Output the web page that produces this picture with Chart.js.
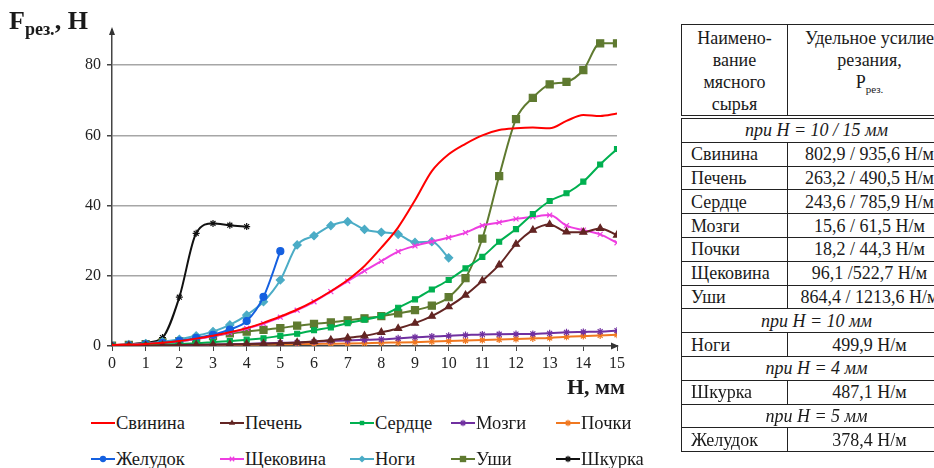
<!DOCTYPE html>
<html lang="ru">
<head>
<meta charset="utf-8">
<script src="https://cdn.jsdelivr.net/npm/chart.js@4.4.1/dist/chart.umd.min.js"></script>
<style>
body { margin:0; width:934px; height:468px; overflow:hidden; background:#fff;
       font-family:"Liberation Serif","Times New Roman",serif; color:#1a1a1a; position:relative; }
#chartBox { position:absolute; left:0; top:0; width:640px; height:400px; }
.ylab { position:absolute; left:9px; top:6px; font-weight:bold; font-size:26px; white-space:nowrap; }
.ylab sub { font-size:18px; vertical-align:-6px; }
.xlab { position:absolute; left:567px; top:374px; font-weight:bold; font-size:22px; white-space:nowrap; }
.lg { position:absolute; display:flex; align-items:center; font-size:18.5px; white-space:nowrap; height:20px; }
.lg canvas { margin-right:1px; }
table { position:absolute; left:681px; top:24px; border-collapse:collapse; font-size:18px; table-layout:fixed; width:270px; }
td { border:1.5px solid #222; padding:0 0 0 9px; height:22.8px; line-height:20px; white-space:nowrap; overflow:hidden; }
td.v { text-align:center; padding:0; }
td.s { text-align:center; font-style:italic; padding:0; }
tr.hd td { height:82px; vertical-align:top; text-align:center; padding:2px 0 0 0; line-height:22px; border-bottom:4px double #222; }
tr.hd sub { font-size:11px; }
</style>
</head>
<body>
<div id="chartBox"><canvas id="grafico" width="640" height="400"></canvas></div>
<div class="ylab">F<sub>рез.</sub>, Н</div>
<div class="xlab">Н, мм</div>
<div id="legenda"></div>

<table>
  <colgroup><col style="width:106px"><col style="width:164px"></colgroup>
  <tr class="hd"><td>Наимено-<br>вание<br>мясного<br>сырья</td><td>Удельное усилие<br>резания,<br>Р<sub>рез.</sub></td></tr>
  <tr><td class="s" colspan="2">при H = 10 / 15 мм</td></tr>
  <tr><td>Свинина</td><td class="v">802,9 / 935,6 Н/м</td></tr>
  <tr><td>Печень</td><td class="v">263,2 / 490,5 Н/м</td></tr>
  <tr><td>Сердце</td><td class="v">243,6 / 785,9 Н/м</td></tr>
  <tr><td>Мозги</td><td class="v">15,6 / 61,5 Н/м</td></tr>
  <tr><td>Почки</td><td class="v">18,2 / 44,3 Н/м</td></tr>
  <tr><td>Щековина</td><td class="v">96,1 /522,7 Н/м</td></tr>
  <tr><td>Уши</td><td class="v">864,4 / 1213,6 Н/м</td></tr>
  <tr><td class="s" colspan="2">при H = 10 мм</td></tr>
  <tr><td>Ноги</td><td class="v">499,9 Н/м</td></tr>
  <tr><td class="s" colspan="2">при H = 4 мм</td></tr>
  <tr><td>Шкурка</td><td class="v">487,1 Н/м</td></tr>
  <tr><td class="s" colspan="2">при H = 5 мм</td></tr>
  <tr><td>Желудок</td><td class="v">378,4 Н/м</td></tr>
</table>

<script>
// глубина резания H, мм
const H15 = [0,0.5,1,1.5,2,2.5,3,3.5,4,4.5,5,5.5,6,6.5,7,7.5,8,8.5,9,9.5,10,10.5,11,11.5,12,12.5,13,13.5,14,14.5,15];
const H10 = [0,0.5,1,1.5,2,2.5,3,3.5,4,4.5,5,5.5,6,6.5,7,7.5,8,8.5,9,9.5,10];
const H5 = [0,0.5,1,1.5,2,2.5,3,3.5,4,4.5,5];
const H4 = [0,0.5,1,1.5,2,2.5,3,3.5,4];

// усилие резания F, Н
const svinina = [0.3,0.4,0.6,0.9,1.4,2.1,2.9,3.9,5.1,6.6,8.4,10.4,12.8,15.6,18.8,22.8,28.0,33.8,41.5,49.8,54.6,57.6,60.0,61.5,62.0,62.2,62.0,64.1,65.8,65.5,66.2];
const pechen = [0,0.05,0.1,0.2,0.3,0.35,0.4,0.5,0.55,0.65,0.8,1.0,1.3,1.7,2.3,2.9,3.9,5.0,6.5,8.5,11.2,14.5,18.6,23.1,29.0,33.0,34.6,32.5,32.4,33.5,31.6];
const serdce = [0,0.05,0.2,0.4,0.6,0.8,1.1,1.4,1.8,2.2,2.9,3.5,4.5,5.3,6.5,7.5,8.6,10.9,13.3,16.1,18.8,22.1,25.4,29.7,33.3,37.6,41.3,43.5,46.8,51.7,56.1];
const mozgi = [0,0.05,0.1,0.15,0.2,0.3,0.4,0.5,0.6,0.75,0.9,1.0,1.2,1.4,1.6,1.75,1.9,2.2,2.5,2.7,2.9,3.1,3.3,3.35,3.4,3.45,3.6,3.9,4.0,4.1,4.4];
const pochki = [0,0.05,0.1,0.15,0.2,0.25,0.3,0.35,0.4,0.45,0.5,0.55,0.6,0.65,0.7,0.8,0.95,1.0,1.1,1.25,1.4,1.55,1.7,1.85,2.0,2.15,2.3,2.6,2.85,3.0,3.2];
const zheludok = [0,0.2,0.5,0.9,1.5,2.3,3.2,4.7,7.1,14.0,27.0];
const shchekovina = [0.2,0.3,0.5,0.8,1.3,2.0,2.8,3.8,5.0,6.4,8.2,10.2,12.6,15.5,18.5,21.4,24.2,26.9,28.5,29.7,30.9,32.3,34.3,35.2,36.2,36.8,37.3,34.3,33.0,31.8,29.4];
const nogi = [0.2,0.4,0.7,1.2,1.9,2.9,4.1,6.0,8.8,12.6,18.8,28.8,31.4,34.3,35.4,33.2,32.4,31.8,29.5,29.7,25.1];
const ushi = [0.1,0.3,0.5,1.0,1.4,2.0,2.8,3.6,4.1,4.6,5.1,5.8,6.3,6.7,7.3,7.9,8.5,9.3,10.2,11.5,13.9,19.3,30.6,48.4,64.6,70.7,74.5,75.2,78.6,86.2,86.2];
const shkurka = [0.2,0.5,0.9,2.4,13.9,32.1,34.9,34.4,34.0];

const yTicks = [0, 20, 40, 60, 80];

const series = [
    { nome: 'Свинина',  h: H15, f: svinina,     cor: '#ff0000', ponto: false,       r: 0 },
    { nome: 'Печень',   h: H15, f: pechen,      cor: '#632523', ponto: 'triangle',  r: 4 },
    { nome: 'Сердце',   h: H15, f: serdce,      cor: '#00b050', ponto: 'rect',      r: 3.5 },
    { nome: 'Мозги',    h: H15, f: mozgi,       cor: '#7030a0', ponto: 'star',      r: 3.5 },
    { nome: 'Почки',    h: H15, f: pochki,      cor: '#f07820', ponto: 'star',      r: 3.5 },
    { nome: 'Желудок',  h: H5,  f: zheludok,    cor: '#1560e0', ponto: 'circle',    r: 3.5 },
    { nome: 'Щековина', h: H15, f: shchekovina, cor: '#ee3ee0', ponto: 'crossRot',  r: 3.5 },
    { nome: 'Ноги',     h: H10, f: nogi,        cor: '#4bacc6', ponto: 'rectRot',   r: 4 },
    { nome: 'Уши',      h: H15, f: ushi,        cor: '#5f7a30', ponto: 'rect',      r: 5 },
    { nome: 'Шкурка',   h: H4,  f: shkurka,     cor: '#111111', ponto: 'star',      r: 3.5 }
];

// стрелки на концах осей
const setas = {
    id: 'setas',
    afterDraw(chart) {
        const { ctx, chartArea: a } = chart;
        ctx.save();
        ctx.fillStyle = '#333';
        ctx.beginPath();
        ctx.moveTo(a.left, a.top - 3);
        ctx.lineTo(a.left - 3, a.top + 5);
        ctx.lineTo(a.left + 3, a.top + 5);
        ctx.closePath();
        ctx.fill();
        ctx.beginPath();
        ctx.moveTo(a.right + 2, a.bottom);
        ctx.lineTo(a.right - 6, a.bottom - 3.5);
        ctx.lineTo(a.right - 6, a.bottom + 3.5);
        ctx.closePath();
        ctx.fill();
        ctx.restore();
    }
};

const fonte = { family: '"Liberation Serif", "Times New Roman", serif', size: 16 };

new Chart(document.getElementById('grafico').getContext('2d'), {
    type: 'line',
    data: {
        datasets: series.map(s => ({
            label: s.nome,
            data: s.h.map((h, i) => ({ x: h, y: s.f[i] })),
            borderColor: s.cor,
            backgroundColor: s.cor,
            borderWidth: 2,
            pointStyle: s.ponto,
            pointRadius: s.r,
            pointBorderWidth: 1.2,
            cubicInterpolationMode: 'monotone',
            fill: false
        }))
    },
    options: {
        responsive: false,
        animation: false,
        devicePixelRatio: 1,
        layout: { padding: { left: 0, top: 30, right: 23, bottom: 0 } },
        plugins: { legend: { display: false }, tooltip: { enabled: false } },
        scales: {
            x: {
                type: 'linear', min: 0, max: 15,
                ticks: { stepSize: 1, color: '#222', font: fonte, padding: 3, maxRotation: 0 },
                grid: { drawOnChartArea: false, tickLength: 5, color: '#444', tickColor: '#444' },
                border: { color: '#444', width: 1.5 },
                afterFit(scale) { scale.height = 54; }
            },
            y: {
                min: 0, max: 90,
                ticks: { stepSize: 20, color: '#222', font: fonte, padding: 6 },
                afterBuildTicks(scale) { scale.ticks = yTicks.map(v => ({ value: v })); },
                grid: {
                    color: ctx => ctx.tick && ctx.tick.value === 0 ? 'rgba(0,0,0,0)' : '#a6a6a6',
                    lineWidth: 1.5, tickLength: 5, tickColor: '#444'
                },
                border: { color: '#444', width: 1.5 },
                afterFit(scale) { scale.width = 112; }
            }
        }
    },
    plugins: [setas]
});

// легенда
function marcador(ctx, estilo, x, y, r, cor) {
    ctx.fillStyle = cor;
    ctx.strokeStyle = cor;
    ctx.lineWidth = 1.2;
    ctx.beginPath();
    if (estilo === 'circle') {
        ctx.arc(x, y, r, 0, Math.PI * 2); ctx.fill();
    } else if (estilo === 'rect') {
        const s = r * Math.SQRT1_2; ctx.fillRect(x - s, y - s, 2 * s, 2 * s);
    } else if (estilo === 'rectRot') {
        ctx.moveTo(x, y - r); ctx.lineTo(x + r, y); ctx.lineTo(x, y + r); ctx.lineTo(x - r, y); ctx.fill();
    } else if (estilo === 'triangle') {
        ctx.moveTo(x, y - r); ctx.lineTo(x + r * 0.87, y + r * 0.5); ctx.lineTo(x - r * 0.87, y + r * 0.5); ctx.fill();
    } else if (estilo === 'crossRot' || estilo === 'star') {
        const d = r * 0.7;
        ctx.moveTo(x - d, y - d); ctx.lineTo(x + d, y + d);
        ctx.moveTo(x + d, y - d); ctx.lineTo(x - d, y + d);
        if (estilo === 'star') { ctx.moveTo(x, y - r); ctx.lineTo(x, y + r); }
        ctx.stroke();
    }
}

const colunas = [91, 220, 350, 451, 556];
const linhas = [413, 449];
const legenda = document.getElementById('legenda');
series.forEach((s, i) => {
    const item = document.createElement('div');
    item.className = 'lg';
    item.style.left = colunas[i % 5] + 'px';
    item.style.top = linhas[Math.floor(i / 5)] + 'px';
    const c = document.createElement('canvas');
    c.width = 24; c.height = 12;
    const cx = c.getContext('2d');
    cx.strokeStyle = s.cor; cx.lineWidth = 2;
    cx.beginPath(); cx.moveTo(0, 6); cx.lineTo(24, 6); cx.stroke();
    if (s.ponto) marcador(cx, s.ponto, 12, 6, s.r * 0.9, s.cor);
    item.appendChild(c);
    const t = document.createElement('span');
    t.textContent = s.nome;
    item.appendChild(t);
    legenda.appendChild(item);
});
</script>
</body>
</html>
